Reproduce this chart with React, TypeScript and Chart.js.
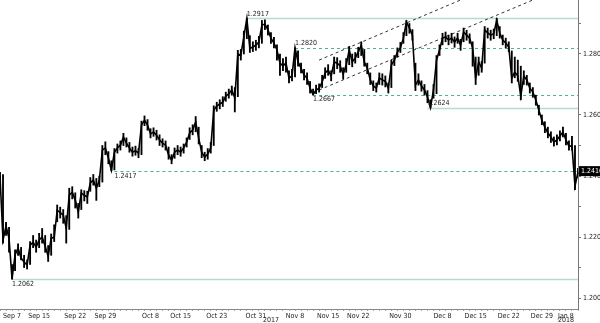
import { useEffect, useRef } from 'react';
import { Chart, registerables } from 'chart.js';

Chart.register(...registerables);

// USD/CAD-style price path, Sep 7 2017 - Jan 9 2018
const closes = [
  1.2400, 1.2190, 1.2236, 1.2196, 1.2062, 1.2141, 1.2164, 1.2131, 1.2118, 1.2108,
  1.2173, 1.2183, 1.2167, 1.2190, 1.2200, 1.2170, 1.2137, 1.2196, 1.2199, 1.2288,
  1.2280, 1.2272, 1.2229, 1.2337, 1.2347, 1.2321, 1.2282, 1.2344, 1.2337, 1.2331,
  1.2377, 1.2387, 1.2360, 1.2387, 1.2485, 1.2492, 1.2459, 1.2419, 1.2478, 1.2492,
  1.2501, 1.2528, 1.2508, 1.2492, 1.2478, 1.2483, 1.2475, 1.2567, 1.2583, 1.2567,
  1.2538, 1.2544, 1.2534, 1.2518, 1.2508, 1.2501, 1.2469, 1.2452, 1.2478, 1.2485,
  1.2478, 1.2492, 1.2511, 1.2541, 1.2551, 1.2577, 1.2524, 1.2478, 1.2462, 1.2472,
  1.2492, 1.2616, 1.2629, 1.2636, 1.2642, 1.2662, 1.2669, 1.2682, 1.2656, 1.2800,
  1.2797, 1.2856, 1.2917, 1.2818, 1.2823, 1.2829, 1.2839, 1.2895, 1.2898, 1.2879,
  1.2852, 1.2836, 1.2813, 1.2770, 1.2761, 1.2770, 1.2721, 1.2728, 1.2820, 1.2774,
  1.2754, 1.2731, 1.2721, 1.2688, 1.2667, 1.2682, 1.2688, 1.2708, 1.2738, 1.2747,
  1.2728, 1.2774, 1.2770, 1.2761, 1.2734, 1.2764, 1.2813, 1.2774, 1.2787, 1.2806,
  1.2829, 1.2774, 1.2754, 1.2715, 1.2695, 1.2688, 1.2721, 1.2715, 1.2710, 1.2688,
  1.2764, 1.2780, 1.2806, 1.2820, 1.2852, 1.2905, 1.2885, 1.2862, 1.2698, 1.2715,
  1.2695, 1.2682, 1.2659, 1.2624, 1.2682, 1.2780, 1.2813, 1.2852, 1.2856, 1.2846,
  1.2852, 1.2839, 1.2852, 1.2829, 1.2872, 1.2862, 1.2852, 1.2820, 1.2721, 1.2774,
  1.2754, 1.2879, 1.2869, 1.2862, 1.2866, 1.2911, 1.2869, 1.2846, 1.2836, 1.2823,
  1.2721, 1.2741, 1.2728, 1.2662, 1.2728, 1.2715, 1.2688, 1.2675, 1.2649, 1.2616,
  1.2583, 1.2560, 1.2541, 1.2528, 1.2511, 1.2518, 1.2531, 1.2544, 1.2518, 1.2498,
  1.2498, 1.2367, 1.2413,
];

const highs = [
  1.2412, 1.2405, 1.2248, 1.2232, 1.2110, 1.2158, 1.2178, 1.2166, 1.2140, 1.2125,
  1.2185, 1.2205, 1.2190, 1.2212, 1.2228, 1.2205, 1.2172, 1.2210, 1.2240, 1.2305,
  1.2298, 1.2290, 1.2270, 1.2360, 1.2365, 1.2345, 1.2310, 1.2355, 1.2352, 1.2350,
  1.2395, 1.2405, 1.2392, 1.2400, 1.2500, 1.2512, 1.2480, 1.2450, 1.2490, 1.2505,
  1.2515, 1.2540, 1.2525, 1.2510, 1.2495, 1.2498, 1.2490, 1.2580, 1.2597, 1.2585,
  1.2555, 1.2558, 1.2550, 1.2535, 1.2522, 1.2515, 1.2495, 1.2470, 1.2492, 1.2500,
  1.2495, 1.2505, 1.2525, 1.2558, 1.2568, 1.2595, 1.2560, 1.2500, 1.2478, 1.2490,
  1.2510, 1.2630, 1.2642, 1.2650, 1.2660, 1.2675, 1.2685, 1.2695, 1.2690, 1.2812,
  1.2815, 1.2875, 1.2917, 1.2860, 1.2840, 1.2845, 1.2858, 1.2910, 1.2912, 1.2895,
  1.2870, 1.2855, 1.2830, 1.2800, 1.2785, 1.2790, 1.2745, 1.2750, 1.2820, 1.2810,
  1.2770, 1.2750, 1.2738, 1.2710, 1.2685, 1.2698, 1.2702, 1.2730, 1.2755, 1.2765,
  1.2745, 1.2790, 1.2788, 1.2778, 1.2755, 1.2785, 1.2825, 1.2800, 1.2805, 1.2822,
  1.2840, 1.2815, 1.2770, 1.2738, 1.2712, 1.2705, 1.2738, 1.2735, 1.2728, 1.2705,
  1.2780, 1.2795, 1.2820, 1.2838, 1.2870, 1.2910, 1.2900, 1.2880, 1.2770, 1.2735,
  1.2712, 1.2700, 1.2680, 1.2650, 1.2700, 1.2795, 1.2830, 1.2868, 1.2872, 1.2862,
  1.2868, 1.2856, 1.2868, 1.2848, 1.2885, 1.2878, 1.2866, 1.2840, 1.2790, 1.2790,
  1.2775, 1.2890, 1.2885, 1.2878, 1.2882, 1.2917, 1.2890, 1.2862, 1.2852, 1.2840,
  1.2810, 1.2790, 1.2780, 1.2760, 1.2745, 1.2730, 1.2705, 1.2690, 1.2665, 1.2632,
  1.2600, 1.2578, 1.2560, 1.2545, 1.2528, 1.2535, 1.2548, 1.2560, 1.2540, 1.2515,
  1.2530, 1.2500, 1.2425,
];

const lows = [
  1.2386, 1.2180, 1.2205, 1.2150, 1.2062, 1.2090, 1.2140, 1.2125, 1.2100, 1.2095,
  1.2110, 1.2165, 1.2150, 1.2165, 1.2180, 1.2150, 1.2120, 1.2140, 1.2185, 1.2250,
  1.2262, 1.2245, 1.2180, 1.2225, 1.2325, 1.2295, 1.2262, 1.2290, 1.2318, 1.2310,
  1.2350, 1.2370, 1.2320, 1.2365, 1.2380, 1.2470, 1.2440, 1.2417, 1.2420, 1.2475,
  1.2485, 1.2500, 1.2495, 1.2478, 1.2465, 1.2468, 1.2460, 1.2470, 1.2565, 1.2550,
  1.2525, 1.2530, 1.2518, 1.2500, 1.2495, 1.2485, 1.2455, 1.2440, 1.2458, 1.2470,
  1.2465, 1.2475, 1.2495, 1.2520, 1.2535, 1.2545, 1.2505, 1.2460, 1.2450, 1.2455,
  1.2475, 1.2500, 1.2612, 1.2620, 1.2628, 1.2645, 1.2655, 1.2665, 1.2610, 1.2660,
  1.2780, 1.2800, 1.2850, 1.2805, 1.2808, 1.2812, 1.2820, 1.2835, 1.2880, 1.2862,
  1.2835, 1.2820, 1.2780, 1.2730, 1.2745, 1.2740, 1.2705, 1.2712, 1.2725, 1.2760,
  1.2738, 1.2715, 1.2700, 1.2672, 1.2667, 1.2670, 1.2675, 1.2690, 1.2720, 1.2730,
  1.2712, 1.2735, 1.2752, 1.2740, 1.2718, 1.2740, 1.2765, 1.2758, 1.2770, 1.2788,
  1.2795, 1.2760, 1.2735, 1.2700, 1.2680, 1.2675, 1.2700, 1.2698, 1.2692, 1.2672,
  1.2690, 1.2762, 1.2790, 1.2805, 1.2835, 1.2860, 1.2868, 1.2845, 1.2680, 1.2698,
  1.2678, 1.2665, 1.2640, 1.2624, 1.2655, 1.2670, 1.2795, 1.2830, 1.2840, 1.2830,
  1.2836, 1.2822, 1.2835, 1.2812, 1.2840, 1.2845, 1.2835, 1.2760, 1.2700, 1.2730,
  1.2740, 1.2770, 1.2852, 1.2845, 1.2850, 1.2860, 1.2852, 1.2830, 1.2820, 1.2808,
  1.2705, 1.2722, 1.2710, 1.2650, 1.2700, 1.2698, 1.2672, 1.2658, 1.2632, 1.2600,
  1.2568, 1.2542, 1.2525, 1.2510, 1.2498, 1.2502, 1.2515, 1.2528, 1.2502, 1.2485,
  1.2485, 1.2355, 1.2395,
];

const xTickIdx = [4, 13, 25, 35, 50, 60, 72, 85, 98, 109, 119, 133, 147, 158, 169, 180, 188];
const xTickText = ['Sep 7', 'Sep 15', 'Sep 22', 'Sep 29', 'Oct 8', 'Oct 15', 'Oct 23', 'Oct 31', 'Nov 8', 'Nov 15', 'Nov 22', 'Nov 30', 'Dec 8', 'Dec 15', 'Dec 22', 'Dec 29', 'Jan 8'];
const yearIdx = [90, 188];
const yearText = ['2017', '2018'];

const yTickValues = [1.20, 1.21, 1.22, 1.23, 1.24, 1.25, 1.26, 1.27, 1.28, 1.29];
const yMin = 1.1964;
const yMax = 1.2977;

const refLevels = [1.2917, 1.2820, 1.2667, 1.2624, 1.2417, 1.2062];
const refStartIdx = [82, 98, 104, 142, 38, 4];
const refDashed = [false, true, true, false, true, false];
const refLabelAbove = [true, true, false, true, false, false];

const trendStartIdx = [106, 106];
const trendStartPrice = [1.2780, 1.2682];
const trendEndIdx = [153, 177];
const trendEndPrice = [1.2977, 1.2977];

const lastPrice = 1.2416;

const FONT = '"Liberation Sans Narrow", "DejaVu Sans Condensed", "Liberation Sans", Arial, sans-serif';

const overlay = {
  id: 'overlay',
  beforeDatasetsDraw(chart: any) {
    const { ctx, chartArea, scales } = chart;
    const x = scales.x;
    const y = scales.y;
    ctx.save();
    ctx.beginPath();
    ctx.rect(chartArea.left, chartArea.top, chartArea.right - chartArea.left, chartArea.bottom - chartArea.top);
    ctx.clip();
    refLevels.forEach((lv, i) => {
      const py = Math.round(y.getPixelForValue(lv)) + 0.5;
      const px = x.getPixelForValue(refStartIdx[i]);
      ctx.beginPath();
      if (refDashed[i]) {
        ctx.setLineDash([3, 3]);
        ctx.strokeStyle = '#4fb096';
        ctx.lineWidth = 1;
      } else {
        ctx.setLineDash([]);
        ctx.strokeStyle = '#b3dbd2';
        ctx.lineWidth = 1.5;
      }
      ctx.moveTo(px, py);
      ctx.lineTo(chartArea.right, py);
      ctx.stroke();
    });
    ctx.setLineDash([3, 3]);
    ctx.strokeStyle = '#333';
    ctx.lineWidth = 1;
    trendStartIdx.forEach((s, i) => {
      ctx.beginPath();
      ctx.moveTo(x.getPixelForValue(s), y.getPixelForValue(trendStartPrice[i]));
      ctx.lineTo(x.getPixelForValue(trendEndIdx[i]), y.getPixelForValue(trendEndPrice[i]));
      ctx.stroke();
    });
    ctx.restore();
  },
  afterDraw(chart: any) {
    const { ctx, chartArea, scales } = chart;
    const x = scales.x;
    const y = scales.y;
    ctx.save();
    ctx.font = `7px ${FONT}`;
    ctx.fillStyle = '#222';
    ctx.textAlign = 'left';
    refLevels.forEach((lv, i) => {
      const py = y.getPixelForValue(lv);
      const px = x.getPixelForValue(refStartIdx[i]);
      if (refLabelAbove[i]) {
        ctx.textBaseline = 'bottom';
        ctx.fillText(lv.toFixed(4), px, py - 1);
      } else {
        ctx.textBaseline = 'top';
        ctx.fillText(lv.toFixed(4), px, py + 1.5);
      }
    });
    ctx.textAlign = 'center';
    ctx.textBaseline = 'middle';
    yearIdx.forEach((idx, i) => {
      ctx.fillText(yearText[i], x.getPixelForValue(idx), chartArea.bottom + 11);
    });
    const py = y.getPixelForValue(lastPrice);
    ctx.fillStyle = '#000';
    ctx.fillRect(chartArea.right + 1, py - 5, 22, 10);
    ctx.fillStyle = '#fff';
    ctx.textAlign = 'left';
    ctx.textBaseline = 'middle';
    ctx.fillText(lastPrice.toFixed(4), chartArea.right + 3, py);
    ctx.restore();
  },
};

export default function App() {
  const ref = useRef<HTMLCanvasElement | null>(null);
  useEffect(() => {
    if (!ref.current) return;
    const labelMap: Record<number, string> = {};
    xTickIdx.forEach((idx, i) => { labelMap[idx] = xTickText[i]; });
    const chart = new Chart(ref.current, {
      type: 'line',
      data: {
        labels: closes.map((_, i) => String(i)),
        datasets: [
          {
            type: 'line',
            data: closes,
            borderColor: '#000',
            borderWidth: 1.6,
            pointRadius: 0,
            tension: 0,
            fill: false,
            order: 1,
          },
          {
            type: 'bar',
            data: lows.map((l, i) => [l, highs[i]]),
            backgroundColor: '#000',
            barThickness: 1.2,
            order: 2,
          } as any,
        ],
      },
      options: {
        responsive: false,
        animation: false,
        events: [],
        layout: { padding: 0 },
        plugins: { legend: { display: false }, tooltip: { enabled: false } },
        scales: {
          x: {
            type: 'category',
            offset: false,
            grid: {
              drawOnChartArea: false,
              offset: false,
              tickLength: 2,
              tickColor: (c: any) => (c.index % 2 === 0 ? '#aaa' : 'rgba(0,0,0,0)'),
            },
            border: { color: '#888' },
            ticks: {
              autoSkip: false,
              maxRotation: 0,
              minRotation: 0,
              padding: 1,
              color: '#222',
              font: { family: FONT, size: 7 },
              callback: (_v: any, i: number) => labelMap[i] ?? '',
            },
            afterFit: (s: any) => { s.height = 14; s.paddingLeft = 0; s.paddingRight = 0; },
          },
          y: {
            position: 'right',
            min: yMin,
            max: yMax,
            afterBuildTicks: (s: any) => { s.ticks = yTickValues.map((v) => ({ value: v })); },
            grid: { drawOnChartArea: false, tickLength: 3, color: '#777' },
            border: { color: '#777' },
            ticks: {
              padding: 2,
              color: '#222',
              font: { family: FONT, size: 7 },
              callback: (v: any) => {
                const k = Math.round(Number(v) * 100);
                return k % 2 === 0 ? Number(v).toFixed(4) : '';
              },
            },
            afterFit: (s: any) => { s.width = 22; s.paddingTop = 0; s.paddingBottom = 0; },
          },
        },
      },
      plugins: [overlay],
    });
    return () => chart.destroy();
  }, []);
  return (
    <div style={{ position: 'absolute', left: 0, top: 0, width: 600, height: 323, background: '#fff' }}>
      <canvas ref={ref} width={600} height={323} style={{ display: 'block' }} />
    </div>
  );
}
